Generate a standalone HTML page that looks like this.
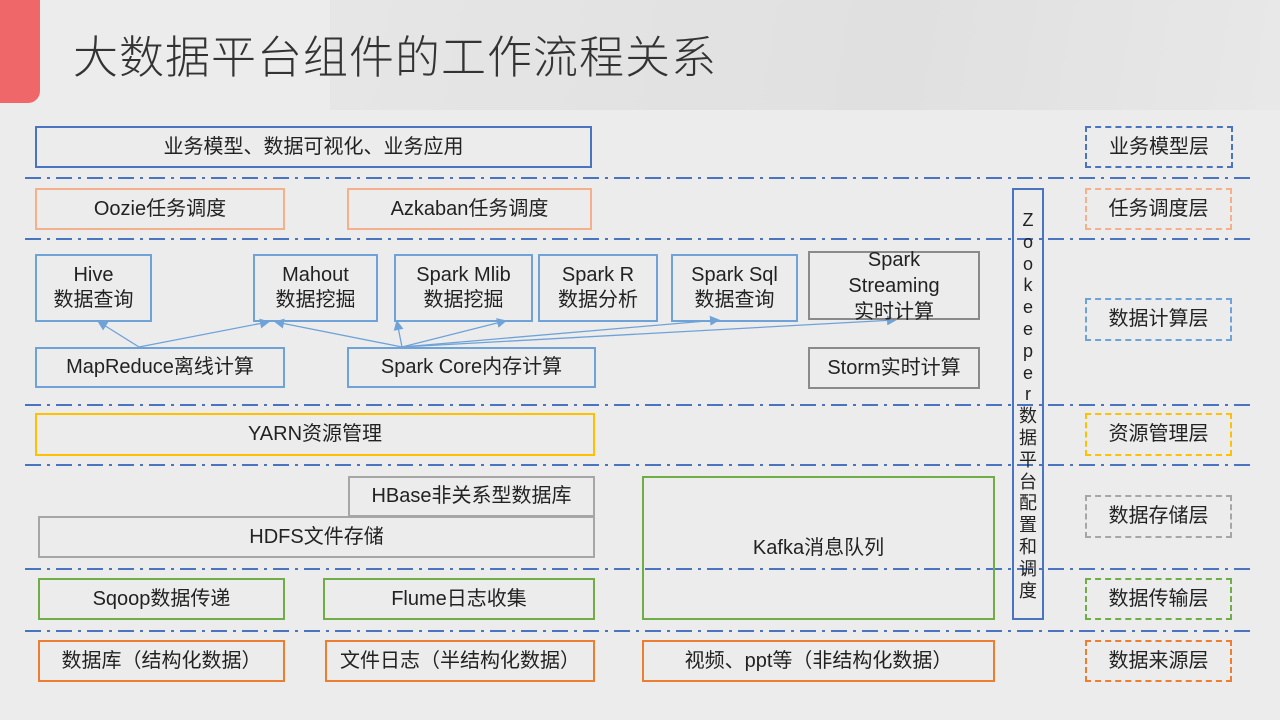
<!DOCTYPE html>
<html><head><meta charset="utf-8"><style>
body{margin:0;width:1280px;height:720px;overflow:hidden;background:#ececec;font-family:"Liberation Sans","Noto Sans CJK SC",sans-serif;position:relative;color:#222}
.b{position:absolute;box-sizing:border-box;border:2px solid;display:flex;align-items:center;justify-content:center;text-align:center;font-size:20px;line-height:25px;background:transparent}
.d{border-style:dashed}
.bl{border-color:#4a74c0}.lb{border-color:#6fa3d8}.or{border-color:#f4b08a}.ye{border-color:#ffc000}.gr{border-color:#a6a6a6}.gn{border-color:#70ad47}.od{border-color:#ed7d31}
</style></head><body>
<div style="position:absolute;left:330px;top:0;width:950px;height:110px;background:linear-gradient(100deg,#e6e6e6,#e0e0e0 60%,#e8e8e8)"></div>
<div style="position:absolute;left:0;top:0;width:40px;height:103px;background:#f0676a;border-bottom-right-radius:12px"></div>
<div style="position:absolute;left:73px;top:21px;font-size:45px;color:#333;letter-spacing:1px;font-family:'Noto Sans CJK SC',sans-serif;font-weight:300">大数据平台组件的工作流程关系</div>
<svg style="position:absolute;left:0;top:0" width="1280" height="720">
<defs><marker id="a" markerWidth="10" markerHeight="10" refX="8" refY="5" orient="auto" markerUnits="userSpaceOnUse"><path d="M0,0 L10,5 L0,10z" fill="#6fa3d8"/></marker></defs>
<g stroke="#4a74c0" stroke-width="2" stroke-dasharray="16,6,3,6" fill="none">
<line x1="25" y1="178" x2="1255" y2="178"/><line x1="25" y1="239" x2="1255" y2="239"/><line x1="25" y1="405" x2="1255" y2="405"/><line x1="25" y1="465" x2="1255" y2="465"/><line x1="25" y1="569" x2="1255" y2="569"/><line x1="25" y1="631" x2="1255" y2="631"/>
</g>
<g stroke="#6fa3d8" stroke-width="1.3" marker-end="url(#a)">
<line x1="139" y1="347" x2="99" y2="322"/><line x1="139" y1="347" x2="268" y2="322"/>
<line x1="402" y1="347" x2="276" y2="322"/><line x1="402" y1="347" x2="397" y2="322"/><line x1="402" y1="347" x2="505" y2="321"/><line x1="402" y1="347" x2="718" y2="320"/><line x1="402" y1="347" x2="895" y2="320"/>
</g></svg>
<div class="b bl" style="left:35px;top:126px;width:557px;height:42px">业务模型、数据可视化、业务应用</div>
<div class="b or" style="left:35px;top:188px;width:250px;height:42px">Oozie任务调度</div>
<div class="b or" style="left:347px;top:188px;width:245px;height:42px">Azkaban任务调度</div>
<div class="b lb" style="left:35px;top:254px;width:117px;height:68px">Hive<br>数据查询</div>
<div class="b lb" style="left:253px;top:254px;width:125px;height:68px">Mahout<br>数据挖掘</div>
<div class="b lb" style="left:394px;top:254px;width:139px;height:68px">Spark Mlib<br>数据挖掘</div>
<div class="b lb" style="left:538px;top:254px;width:120px;height:68px">Spark R<br>数据分析</div>
<div class="b lb" style="left:671px;top:254px;width:127px;height:68px">Spark Sql<br>数据查询</div>
<div class="b gr" style="left:808px;top:251px;width:172px;height:69px;border-color:#8a8a8a;line-height:26px">Spark<br>Streaming<br>实时计算</div>
<div class="b lb" style="left:35px;top:347px;width:250px;height:41px">MapReduce离线计算</div>
<div class="b lb" style="left:347px;top:347px;width:249px;height:41px">Spark Core内存计算</div>
<div class="b gr" style="left:808px;top:347px;width:172px;height:42px;border-color:#8a8a8a">Storm实时计算</div>
<div class="b ye" style="left:35px;top:413px;width:560px;height:43px">YARN资源管理</div>
<div class="b gr" style="left:348px;top:476px;width:247px;height:41px">HBase非关系型数据库</div>
<div class="b gr" style="left:38px;top:516px;width:557px;height:42px">HDFS文件存储</div>
<div class="b gn" style="left:642px;top:476px;width:353px;height:144px">Kafka消息队列</div>
<div class="b gn" style="left:38px;top:578px;width:247px;height:42px">Sqoop数据传递</div>
<div class="b gn" style="left:323px;top:578px;width:272px;height:42px">Flume日志收集</div>
<div class="b od" style="left:38px;top:640px;width:247px;height:42px">数据库（结构化数据）</div>
<div class="b od" style="left:325px;top:640px;width:270px;height:42px">文件日志（半结构化数据）</div>
<div class="b od" style="left:642px;top:640px;width:353px;height:42px">视频、ppt等（非结构化数据）</div>
<div class="b bl" style="left:1012px;top:188px;width:32px;height:432px;font-size:18px;line-height:21.8px;align-items:flex-start;padding-top:20px">Z<br>o<br>o<br>k<br>e<br>e<br>p<br>e<br>r<br>数<br>据<br>平<br>台<br>配<br>置<br>和<br>调<br>度</div>
<div class="b d bl" style="left:1085px;top:126px;width:148px;height:42px">业务模型层</div>
<div class="b d or" style="left:1085px;top:188px;width:147px;height:42px">任务调度层</div>
<div class="b d lb" style="left:1085px;top:298px;width:147px;height:43px">数据计算层</div>
<div class="b d ye" style="left:1085px;top:413px;width:147px;height:43px">资源管理层</div>
<div class="b d gr" style="left:1085px;top:495px;width:147px;height:43px">数据存储层</div>
<div class="b d gn" style="left:1085px;top:578px;width:147px;height:42px">数据传输层</div>
<div class="b d od" style="left:1085px;top:640px;width:147px;height:42px">数据来源层</div>
</body></html>
